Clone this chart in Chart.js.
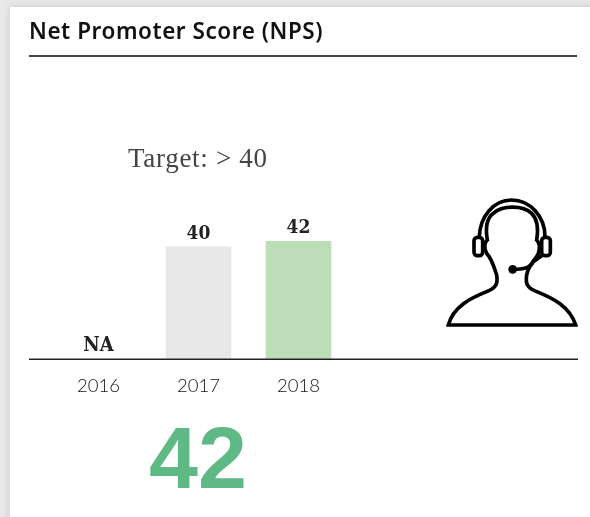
<!DOCTYPE html>
<html lang="en">
  <head>
    <meta charset="utf-8" />
    <title>Net Promoter Score (NPS)</title>
    <script src="https://cdn.jsdelivr.net/npm/chart.js@4"></script>
    <style>
      * {
        margin: 0;
        padding: 0;
        box-sizing: border-box;
      }
      body {
        width: 590px;
        height: 517px;
        overflow: hidden;
        position: relative;
        background: #e9e9e9;
      }
      .card {
        position: absolute;
        left: 10px;
        top: 7px;
        width: 590px;
        height: 520px;
        background: #fff;
        box-shadow: 0 0 8px rgba(0, 0, 0, 0.14);
      }
      #chart {
        position: absolute;
        left: 0;
        top: 0;
      }
      .title {
        position: absolute;
        left: 29px;
        top: 15px;
        font: 600 22.5px "Noto Sans", sans-serif;
        letter-spacing: 0.55px;
        line-height: 31px;
        color: #111;
        white-space: nowrap;
      }
      .rule {
        position: absolute;
        left: 29px;
        top: 55px;
        width: 548px;
        height: 2px;
        background: #444;
      }
      .target {
        position: absolute;
        left: 128px;
        top: 143px;
        font: 400 27px "Liberation Serif", serif;
        letter-spacing: 0.7px;
        color: #444;
        white-space: nowrap;
      }
      .big {
        position: absolute;
        left: 149px;
        top: 407px;
        font: 700 88px "Liberation Sans", sans-serif;
        color: #5fb985;
      }
      svg {
        position: absolute;
        left: 430px;
        top: 190px;
      }
    </style>
  </head>
  <body>
    <div class="card"></div>
    <canvas id="chart" width="590" height="517"></canvas>
    <div class="title">Net Promoter Score (NPS)</div>
    <div class="rule"></div>
    <div class="target">Target: &gt; 40</div>
    <div class="big">42</div>
    <svg width="160" height="150" viewBox="0 0 480 450" fill="none" stroke="#000" stroke-width="11">
      <path d="M55 405C70 350 120 325 170 305C195 295 205 285 200 255C190 225 185 205 170 190C160 170 165 155 172 150C165 110 170 85 190 70C215 45 280 45 305 70C325 90 325 120 320 150C330 160 330 175 325 190C320 205 295 225 290 255C285 285 295 295 320 305C370 325 420 350 437 405Z" />
      <path d="M148 140C150 80 190 30 245 30C300 30 345 80 345 140" />
      <rect x="132" y="142" width="26" height="55" rx="10" />
      <rect x="335" y="142" width="26" height="55" rx="10" />
      <path d="M248 238C280 238 300 235 310 215L335 197" />
      <circle cx="248" cy="238" r="13" fill="#000" stroke="none" />
    </svg>
    <script>
      const years = ["2016", "2017", "2018"];
      const npsValues = [null, 40, 42];
      const barColors = ["#e8e8e8", "#e8e8e8", "#bddcb8"];
      const missingLabel = "NA";

      //draws the value above each bar and the long baseline
      const barLabels = {
        id: "barLabels",
        afterDatasetsDraw(chart) {
          const ctx = chart.ctx;
          const x = chart.scales.x;
          const y = chart.scales.y;
          const base = y.getPixelForValue(0);
          ctx.save();
          ctx.strokeStyle = "#222";
          ctx.lineWidth = 1.5;
          ctx.beginPath();
          ctx.moveTo(29, base + 0.5);
          ctx.lineTo(578, base + 0.5);
          ctx.stroke();
          ctx.fillStyle = "#222";
          ctx.textAlign = "center";
          ctx.textBaseline = "alphabetic";
          npsValues.forEach((v, i) => {
            const px = x.getPixelForValue(i);
            if (v === null) {
              ctx.font = "700 20px 'DejaVu Serif Condensed', 'DejaVu Serif', serif";
              ctx.fillText(missingLabel, px, base - 8);
            } else {
              ctx.font = "700 19px 'DejaVu Serif Condensed', 'DejaVu Serif', serif";
              ctx.fillText(String(v), px, y.getPixelForValue(v) - 8);
            }
          });
          ctx.restore();
        },
      };

      new Chart(document.getElementById("chart"), {
        type: "bar",
        plugins: [barLabels],
        data: {
          labels: years,
          datasets: [
            {
              data: npsValues,
              backgroundColor: barColors,
              barThickness: 65,
            },
          ],
        },
        options: {
          responsive: false,
          animation: false,
          layout: {
            padding: { left: 48.5, right: 241.5, top: 107, bottom: 112 },
          },
          plugins: {
            legend: { display: false },
            tooltip: { enabled: false },
          },
          scales: {
            x: {
              grid: { display: false },
              border: { display: false },
              ticks: {
                color: "#111",
                padding: 8,
                maxRotation: 0,
                font: { family: "Lato", size: 18.5, weight: "300" },
              },
            },
            y: {
              display: false,
              min: 0,
              max: 90,
            },
          },
        },
      });
    </script>
  </body>
</html>
